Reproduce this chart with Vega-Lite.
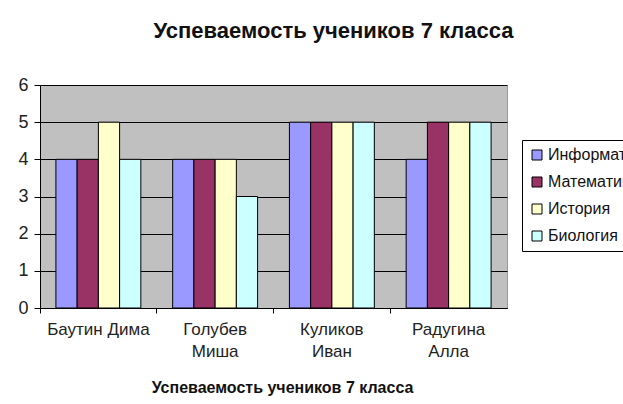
{
  "$schema": "https://vega.github.io/schema/vega-lite/v6.json",
  "autosize": "none",
  "width": 467,
  "height": 223,
  "padding": {"left": 40, "top": 85, "right": 116, "bottom": 96},
  "background": "white",
  "title": {
    "text": "Успеваемость учеников 7 класса",
    "font": "Liberation Sans",
    "fontSize": 22,
    "fontWeight": "bold",
    "color": "#111",
    "anchor": "middle",
    "dx": 60,
    "offset": 33
  },
  "data": {
    "values": [
      {"student": "Баутин Дима", "subject": "Информатика", "grade": 4},
      {"student": "Баутин Дима", "subject": "Математика", "grade": 4},
      {"student": "Баутин Дима", "subject": "История", "grade": 5},
      {"student": "Баутин Дима", "subject": "Биология", "grade": 4},
      {"student": "Голубев Миша", "subject": "Информатика", "grade": 4},
      {"student": "Голубев Миша", "subject": "Математика", "grade": 4},
      {"student": "Голубев Миша", "subject": "История", "grade": 4},
      {"student": "Голубев Миша", "subject": "Биология", "grade": 3},
      {"student": "Куликов Иван", "subject": "Информатика", "grade": 5},
      {"student": "Куликов Иван", "subject": "Математика", "grade": 5},
      {"student": "Куликов Иван", "subject": "История", "grade": 5},
      {"student": "Куликов Иван", "subject": "Биология", "grade": 5},
      {"student": "Радугина Алла", "subject": "Информатика", "grade": 4},
      {"student": "Радугина Алла", "subject": "Математика", "grade": 5},
      {"student": "Радугина Алла", "subject": "История", "grade": 5},
      {"student": "Радугина Алла", "subject": "Биология", "grade": 5}
    ]
  },
  "config": {
    "view": {"fill": "#C0C0C0", "stroke": "#999", "strokeWidth": 1},
    "font": "Liberation Sans"
  },
  "mark": {"type": "bar", "stroke": "black", "strokeWidth": 1},
  "encoding": {
    "x": {
      "field": "student",
      "type": "nominal",
      "sort": null,
      "scale": {"paddingInner": 0, "paddingOuter": 0},
      "axis": {
        "title": "Успеваемость учеников 7 класса",
        "titleFont": "Liberation Sans",
        "titleFontSize": 16,
        "titleFontWeight": "bold",
        "titleColor": "#111",
        "titlePadding": 20,
        "titleX": 242,
        "labelAngle": 0,
        "labelFont": "Liberation Sans",
        "labelFontSize": 17,
        "labelColor": "#222",
        "labelPadding": 8,
        "labelLineHeight": 22,
        "labelExpr": "datum.label == 'Баутин Дима' ? datum.label : split(datum.label, ' ')",
        "bandPosition": 0,
        "tickColor": "black",
        "tickSize": 5,
        "domainColor": "black",
        "grid": false
      }
    },
    "xOffset": {
      "field": "subject",
      "type": "nominal",
      "sort": ["Информатика", "Математика", "История", "Биология"],
      "scale": {"paddingInner": 0, "paddingOuter": 0.75}
    },
    "y": {
      "field": "grade",
      "type": "quantitative",
      "scale": {"domain": [0, 6], "nice": false},
      "axis": {
        "title": null,
        "values": [0, 1, 2, 3, 4, 5, 6],
        "labelFont": "Liberation Sans",
        "labelFontSize": 18,
        "labelColor": "#222",
        "labelPadding": 6,
        "tickColor": "black",
        "tickSize": 6,
        "domainColor": "black",
        "gridColor": "black",
        "gridOpacity": 1,
        "gridWidth": 1
      }
    },
    "color": {
      "field": "subject",
      "type": "nominal",
      "sort": ["Информатика", "Математика", "История", "Биология"],
      "scale": {
        "domain": ["Информатика", "Математика", "История", "Биология"],
        "range": ["#9999FF", "#993366", "#FFFFCC", "#CCFFFF"]
      },
      "legend": {
        "title": null,
        "orient": "none",
        "legendX": 482,
        "legendY": 55,
        "symbolType": "square",
        "symbolSize": 100,
        "symbolStrokeColor": "black",
        "symbolStrokeWidth": 1,
        "labelFont": "Liberation Sans",
        "labelFontSize": 16,
        "labelColor": "#111",
        "labelLimit": 300,
        "labelOffset": 3,
        "rowPadding": 11,
        "padding": 7,
        "strokeColor": "black",
        "fillColor": "white"
      }
    }
  }
}
